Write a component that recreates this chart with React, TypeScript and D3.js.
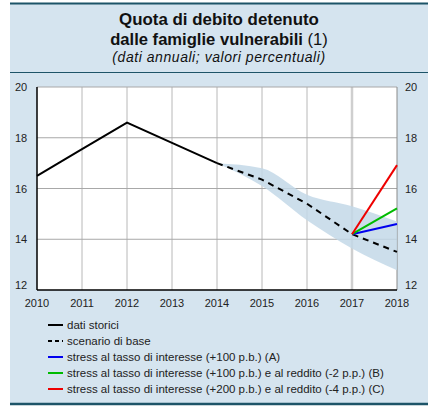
import React from "react";
import * as d3 from "d3";

const histYears = [2010, 2011, 2012, 2013, 2014];
const histValues = [16.5, 17.55, 18.6, 17.8, 17.0];
const baseYears = [2014, 2015, 2016, 2017, 2018];
const baseValues = [17.0, 16.35, 15.4, 14.2, 13.5];
const bandUpper = [17.0, 16.8, 15.75, 15.3, 14.7];
const bandLower = [17.0, 16.1, 14.75, 13.64, 12.78];
const stressYears = [2017, 2018];
const stressA = [14.2, 14.6];
const stressB = [14.2, 15.22];
const stressC = [14.2, 16.92];
const xTicks = [2010, 2011, 2012, 2013, 2014, 2015, 2016, 2017, 2018];
const yTicks = [12, 14, 16, 18, 20];
const legendLabels = [
  "dati storici",
  "scenario di base",
  "stress al tasso di interesse (+100 p.b.) (A)",
  "stress al tasso di interesse (+100 p.b.) e al reddito (-2 p.p.) (B)",
  "stress al tasso di interesse (+200 p.b.) e al reddito (-4 p.p.) (C)",
];

const FONT = "'Liberation Sans', Arial, sans-serif";
const PANEL = "#d5e4ef";
const DARK = "#1d5468";

export default function App() {
  const x = d3.scaleLinear().domain([2010, 2018]).range([37, 397]);
  const y = d3.scaleLinear().domain([12, 20]).range([290, 87]);

  const line = d3
    .line<[number, number]>()
    .x((d) => x(d[0]))
    .y((d) => y(d[1]));
  const area = d3
    .area<number>()
    .x((_, i) => x(baseYears[i]))
    .y0((_, i) => y(bandLower[i]))
    .y1((d) => y(d))
    .curve(d3.curveMonotoneX);

  const zip = (xs: number[], ys: number[]) => xs.map((v, i) => [v, ys[i]] as [number, number]);

  const legendStyles = [
    { color: "#000", dash: undefined as string | undefined },
    { color: "#000", dash: "4,3" },
    { color: "#0000ee", dash: undefined },
    { color: "#00bb00", dash: undefined },
    { color: "#ee0000", dash: undefined },
  ];

  return (
    <svg
      width={438}
      height={408}
      style={{ position: "absolute", left: 0, top: 0, fontFamily: FONT }}
    >
      <rect x={0} y={0} width={438} height={408} fill="#fff" />
      <rect x={10} y={3} width={418} height={402} fill={PANEL} />
      <line x1={10} x2={428} y1={3.5} y2={3.5} stroke={DARK} strokeWidth={2} />
      <line x1={10} x2={428} y1={72.5} y2={72.5} stroke={DARK} strokeWidth={1} />
      <line x1={10} x2={428} y1={404} y2={404} stroke={DARK} strokeWidth={2.5} />

      <text x={219} y={25} textAnchor="middle" fontSize={16.9} fontWeight="bold" fill="#111">
        Quota di debito detenuto
      </text>
      <text x={219} y={45} textAnchor="middle" fontSize={16.6} fill="#111">
        <tspan fontWeight="bold">dalle famiglie vulnerabili </tspan>
        <tspan>(1)</tspan>
      </text>
      <text
        x={219}
        y={62}
        textAnchor="middle"
        fontSize={14}
        letterSpacing={0.55}
        fontStyle="italic"
        fill="#111"
      >
        (dati annuali; valori percentuali)
      </text>

      <rect x={x(2010)} y={y(20)} width={x(2018) - x(2010)} height={y(12) - y(20)} fill="#fff" />

      {xTicks.slice(1, -1).map((t) => (
        <line
          key={"gx" + t}
          x1={x(t)}
          x2={x(t)}
          y1={y(20)}
          y2={y(12)}
          stroke={t === 2017 ? "#cfcfcf" : "#b8b8b8"}
          strokeWidth={t === 2017 ? 2.5 : 1}
        />
      ))}
      {yTicks.slice(1).map((t) => (
        <line
          key={"gy" + t}
          x1={x(2010)}
          x2={x(2018)}
          y1={y(t)}
          y2={y(t)}
          stroke="#a8a8a8"
          strokeWidth={1}
        />
      ))}
      <line x1={x(2018)} x2={x(2018)} y1={y(20)} y2={y(12)} stroke="#8a8a8a" strokeWidth={1} />

      <path d={area(bandUpper) || ""} fill="#c3d8e7" opacity={0.85} />

      <path d={line(zip(histYears, histValues)) || ""} fill="none" stroke="#000" strokeWidth={2} />
      <path
        d={line(zip(baseYears, baseValues)) || ""}
        fill="none"
        stroke="#000"
        strokeWidth={2}
        strokeDasharray="6,5"
      />
      <path d={line(zip(stressYears, stressA)) || ""} fill="none" stroke="#0000ee" strokeWidth={2} />
      <path d={line(zip(stressYears, stressB)) || ""} fill="none" stroke="#00bb00" strokeWidth={2} />
      <path d={line(zip(stressYears, stressC)) || ""} fill="none" stroke="#ee0000" strokeWidth={2} />

      <line x1={x(2010)} x2={x(2010)} y1={y(20)} y2={y(12)} stroke="#000" strokeWidth={1.5} />
      <line x1={x(2010)} x2={x(2018)} y1={y(12)} y2={y(12)} stroke="#000" strokeWidth={1.5} />

      {yTicks.map((t) => (
        <g key={"yl" + t} fontSize={11} fill="#222">
          <text x={21} y={y(t) + (t === 12 ? -1 : 4)} textAnchor="middle">
            {t}
          </text>
          <text x={411} y={y(t) + (t === 12 ? -1 : 4)} textAnchor="middle">
            {t}
          </text>
        </g>
      ))}
      {xTicks.map((t) => (
        <text key={"xl" + t} x={x(t)} y={307} textAnchor="middle" fontSize={11} fill="#222">
          {t}
        </text>
      ))}

      {legendLabels.map((lab, i) => {
        const cy = 325 + i * 16;
        const s = legendStyles[i];
        return (
          <g key={"lg" + i}>
            <line
              x1={48}
              x2={63}
              y1={cy}
              y2={cy}
              stroke={s.color}
              strokeWidth={2}
              strokeDasharray={s.dash}
            />
            <text x={67} y={cy + 4} fontSize={11.5} fill="#222">
              {lab}
            </text>
          </g>
        );
      })}
    </svg>
  );
}
